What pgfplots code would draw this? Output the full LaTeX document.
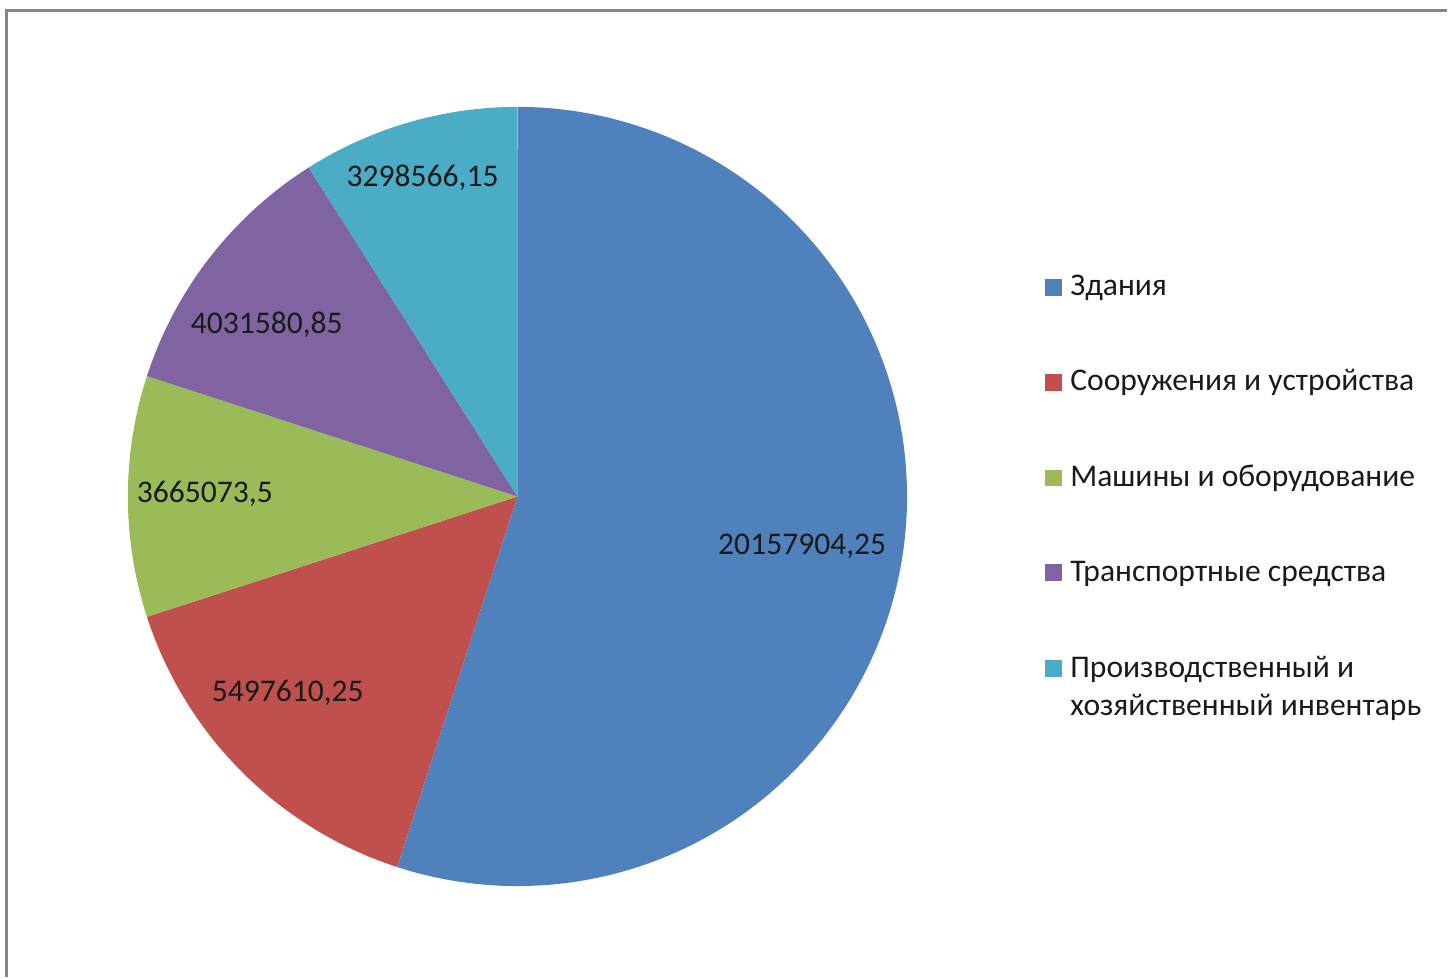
\documentclass[border=0pt]{standalone}
\usepackage{pgfplots}
\pgfplotsset{compat=1.18}
\usepackage{fontspec}
\setmainfont{Carlito}
\definecolor{cblue}{HTML}{4F81BD}
\definecolor{cred}{HTML}{C0504D}
\definecolor{cgreen}{HTML}{9BBB59}
\definecolor{cpurple}{HTML}{8064A2}
\definecolor{ccyan}{HTML}{4BACC6}
\definecolor{frame}{HTML}{868686}
\definecolor{txt}{HTML}{1A1A1A}
% values
\def\vA{20157904.25}% Здания
\def\vB{5497610.25}% Сооружения и устройства
\def\vC{3665073.5}% Машины и оборудование
\def\vD{4031580.85}% Транспортные средства
\def\vE{3298566.15}% Производственный и хозяйственный инвентарь
\edef\tot{\fpeval{\vA+\vB+\vC+\vD+\vE}}
\edef\aA{90}
\edef\aB{\fpeval{\aA-360*\vA/\tot}}
\edef\aC{\fpeval{\aB-360*\vB/\tot}}
\edef\aD{\fpeval{\aC-360*\vC/\tot}}
\edef\aE{\fpeval{\aD-360*\vD/\tot}}
\edef\aF{\fpeval{\aE-360*\vE/\tot}}
\def\cx{518}\def\cy{481}\def\rr{390}
\newcommand\ff{\fontsize{15.8}{19}\selectfont\color{txt}}
\begin{document}
\begin{tikzpicture}
\begin{axis}[
  x=0.5pt, y=0.5pt,
  xmin=0, xmax=1448, ymin=0, ymax=978,
  hide axis, clip=false,
]
\path[draw=none] (axis cs:0,0) rectangle (axis cs:1448,978);
\draw[frame, line width=1.5pt] (axis cs:6.5,0) -- (axis cs:6.5,967.5) -- (axis cs:1448,967.5);
\addplot[fill=cblue, draw=none, domain=\aB:\aA, samples=200, variable=\t]
  ({\cx+\rr*cos(\t)},{\cy+\rr*sin(\t)}) -- (axis cs:\cx,\cy) -- cycle;
\addplot[fill=cred, draw=none, domain=\aC:\aB, samples=80, variable=\t]
  ({\cx+\rr*cos(\t)},{\cy+\rr*sin(\t)}) -- (axis cs:\cx,\cy) -- cycle;
\addplot[fill=cgreen, draw=none, domain=\aD:\aC, samples=60, variable=\t]
  ({\cx+\rr*cos(\t)},{\cy+\rr*sin(\t)}) -- (axis cs:\cx,\cy) -- cycle;
\addplot[fill=cpurple, draw=none, domain=\aE:\aD, samples=60, variable=\t]
  ({\cx+\rr*cos(\t)},{\cy+\rr*sin(\t)}) -- (axis cs:\cx,\cy) -- cycle;
\addplot[fill=ccyan, draw=none, domain=\aF:\aE, samples=60, variable=\t]
  ({\cx+\rr*cos(\t)},{\cy+\rr*sin(\t)}) -- (axis cs:\cx,\cy) -- cycle;
% data labels
\node[font=\ff] at (axis cs:803,431) {20157904,25};
\node[font=\ff] at (axis cs:288,284) {5497610,25};
\node[font=\ff] at (axis cs:205,484) {3665073,5};
\node[font=\ff] at (axis cs:267,653) {4031580,85};
\node[font=\ff] at (axis cs:423,800) {3298566,15};
% legend
\node[font=\ff, anchor=base west, inner sep=0pt] at (axis cs:1046,682) {\textcolor{cblue}{\rule{8.5pt}{8.5pt}}\hspace{4pt}Здания};
\node[font=\ff, anchor=base west, inner sep=0pt] at (axis cs:1046,587) {\textcolor{cred}{\rule{8.5pt}{8.5pt}}\hspace{4pt}Сооружения и устройства};
\node[font=\ff, anchor=base west, inner sep=0pt] at (axis cs:1046,491) {\textcolor{cgreen}{\rule{8.5pt}{8.5pt}}\hspace{4pt}Машины и оборудование};
\node[font=\ff, anchor=base west, inner sep=0pt] at (axis cs:1046,396) {\textcolor{cpurple}{\rule{8.5pt}{8.5pt}}\hspace{4pt}Транспортные средства};
\node[font=\ff, anchor=base west, inner sep=0pt] at (axis cs:1046,300) {\textcolor{ccyan}{\rule{8.5pt}{8.5pt}}\hspace{4pt}Производственный и};
\node[font=\ff, anchor=base west, inner sep=0pt] at (axis cs:1046,262) {\phantom{\rule{8.5pt}{8.5pt}}\hspace{4pt}хозяйственный инвентарь};
\end{axis}
\end{tikzpicture}
\end{document}
